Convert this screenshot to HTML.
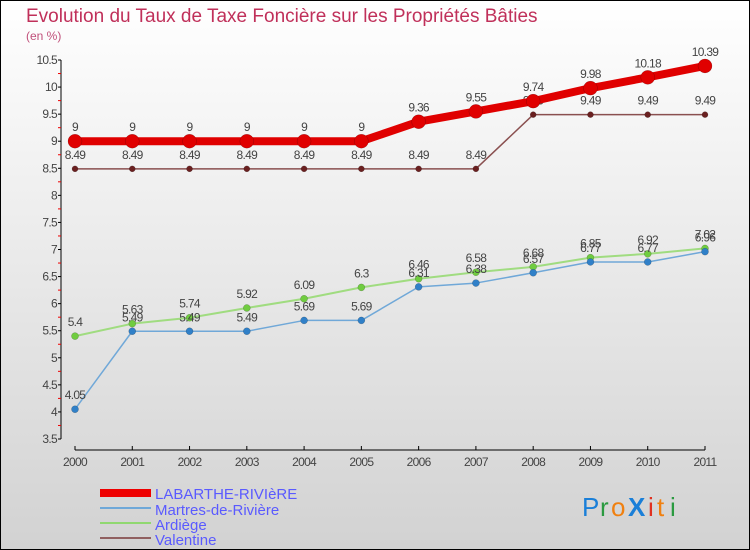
<!DOCTYPE html>
<html><head><meta charset="utf-8"><style>
body{margin:0;width:750px;height:550px;overflow:hidden;font-family:"Liberation Sans",sans-serif}
svg{display:block}
</style></head><body>
<svg width="750" height="550" xmlns="http://www.w3.org/2000/svg">
<defs><linearGradient id="bg" x1="0" y1="0" x2="0" y2="1"><stop offset="0" stop-color="#ffffff"/><stop offset="1" stop-color="#d2d2d2"/></linearGradient></defs>
<rect x="0.5" y="0.5" width="749" height="549" fill="url(#bg)" stroke="#000"/>
<text x="26" y="22" font-size="19" fill="#c0305a">Evolution du Taux de Taxe Foncière sur les Propriétés Bâties</text>
<text x="26" y="40" font-size="12" fill="#c0507a">(en %)</text>
<g id="axes"></g><g id="series"></g>
<g>
<rect x="100" y="489" width="51" height="8" fill="#e00"/>
<text x="155" y="499" font-size="15" fill="#5a5aff">LABARTHE-RIVIèRE</text>
<line x1="100" y1="508" x2="151" y2="508" stroke="#6fa8d8" stroke-width="2"/>
<text x="155" y="515" font-size="15" fill="#5a5aff">Martres-de-Rivière</text>
<line x1="100" y1="523" x2="151" y2="523" stroke="#90d870" stroke-width="2"/>
<text x="155" y="530" font-size="15" fill="#5a5aff">Ardiège</text>
<line x1="100" y1="538" x2="151" y2="538" stroke="#906060" stroke-width="2"/>
<text x="155" y="545" font-size="15" fill="#5a5aff">Valentine</text>
</g>
<g font-size="26">
<text x="582" y="516" fill="#1a7fd8">P</text><text x="600" y="516" fill="#2a9a40">r</text><text x="611" y="516" fill="#f08010">o</text><text x="628" y="516" fill="#1a7fd8" font-weight="bold">X</text><text x="648" y="516" fill="#e03020">i</text><text x="657" y="516" fill="#f08010">t</text><text x="670" y="516" fill="#2a9a40">i</text>
</g>
</svg>
<script>
const years=['2000','2001','2002','2003','2004','2005','2006','2007','2008','2009','2010','2011'];
const labarthe=[9,9,9,9,9,9,9.36,9.55,9.74,9.98,10.18,10.39];
const martres=[4.05,5.49,5.49,5.49,5.69,5.69,6.31,6.38,6.57,6.77,6.77,6.96];
const ardiege=[5.4,5.63,5.74,5.92,6.09,6.3,6.46,6.58,6.68,6.85,6.92,7.02];
const valentine=[8.49,8.49,8.49,8.49,8.49,8.49,8.49,8.49,9.49,9.49,9.49,9.49];
const yTicks=[3.5,4,4.5,5,5.5,6,6.5,7,7.5,8,8.5,9,9.5,10,10.5];
const NS='http://www.w3.org/2000/svg';
const X=i=>75+i*(630/11);
const Y=v=>439-(v-3.5)*(379/7);
function mk(t,a,p){const e=document.createElementNS(NS,t);for(const k in a)e.setAttribute(k,a[k]);p.appendChild(e);return e;}
const ax=document.getElementById('axes');
let yl=mk('line',{x1:61,y1:Y(10.5),x2:61,y2:Y(3.5),stroke:'#000'},ax);


yTicks.forEach(v=>{
 mk('line',{x1:58,y1:Y(v),x2:61,y2:Y(v),stroke:'#000'},ax);
 if(v<10.5)mk('line',{x1:58,y1:Y(v+0.25),x2:61,y2:Y(v+0.25),stroke:'#e00'},ax);
 const t=mk('text',{x:57,y:Y(v)+4,'font-size':12,fill:'#444','text-anchor':'end','letter-spacing':'-0.7'},ax);
 t.textContent=String(v);
 
 
});
let xl=mk('line',{x1:75,y1:450,x2:705,y2:450,stroke:'#000'},ax);


years.forEach((y,i)=>{
 mk('line',{x1:X(i),y1:446,x2:X(i),y2:450,stroke:'#000'},ax);
 const t=mk('text',{x:X(i),y:466,'font-size':12,fill:'#444','text-anchor':'middle','letter-spacing':'-0.7'},ax);
 t.textContent=y;
 
 
});
const sg=document.getElementById('series');
function series(data,name,color,w,r,fill){
 const g=mk('g',{},sg);
 
 
 const pl=mk('polyline',{points:data.map((v,i)=>X(i)+','+Y(v)).join(' '),fill:'none',stroke:color,'stroke-width':w,'stroke-linejoin':'round'},g);
 
 
 data.forEach((v,i)=>{
  const c=mk('circle',{cx:X(i),cy:Y(v),r:r,fill:fill,stroke:'rgba(0,0,0,0.3)','stroke-width':0.5},g);
  
  
  const t=mk('text',{x:X(i),y:Y(v)-10,'font-size':12,fill:'#444','text-anchor':'middle','letter-spacing':'-0.7'},g);
  t.textContent=String(v);
  
  
 });
}
series(valentine,'valentine','#8a5050',1.5,3,'#6a2020');
series(ardiege,'ardiege','#a0dc80',2,3.5,'#70cc40');
series(martres,'martres','#70a8d8',1.5,3.5,'#3080c8');
series(labarthe,'labarthe','#e00000',8,7,'#e00000');
</script>
</body></html>
